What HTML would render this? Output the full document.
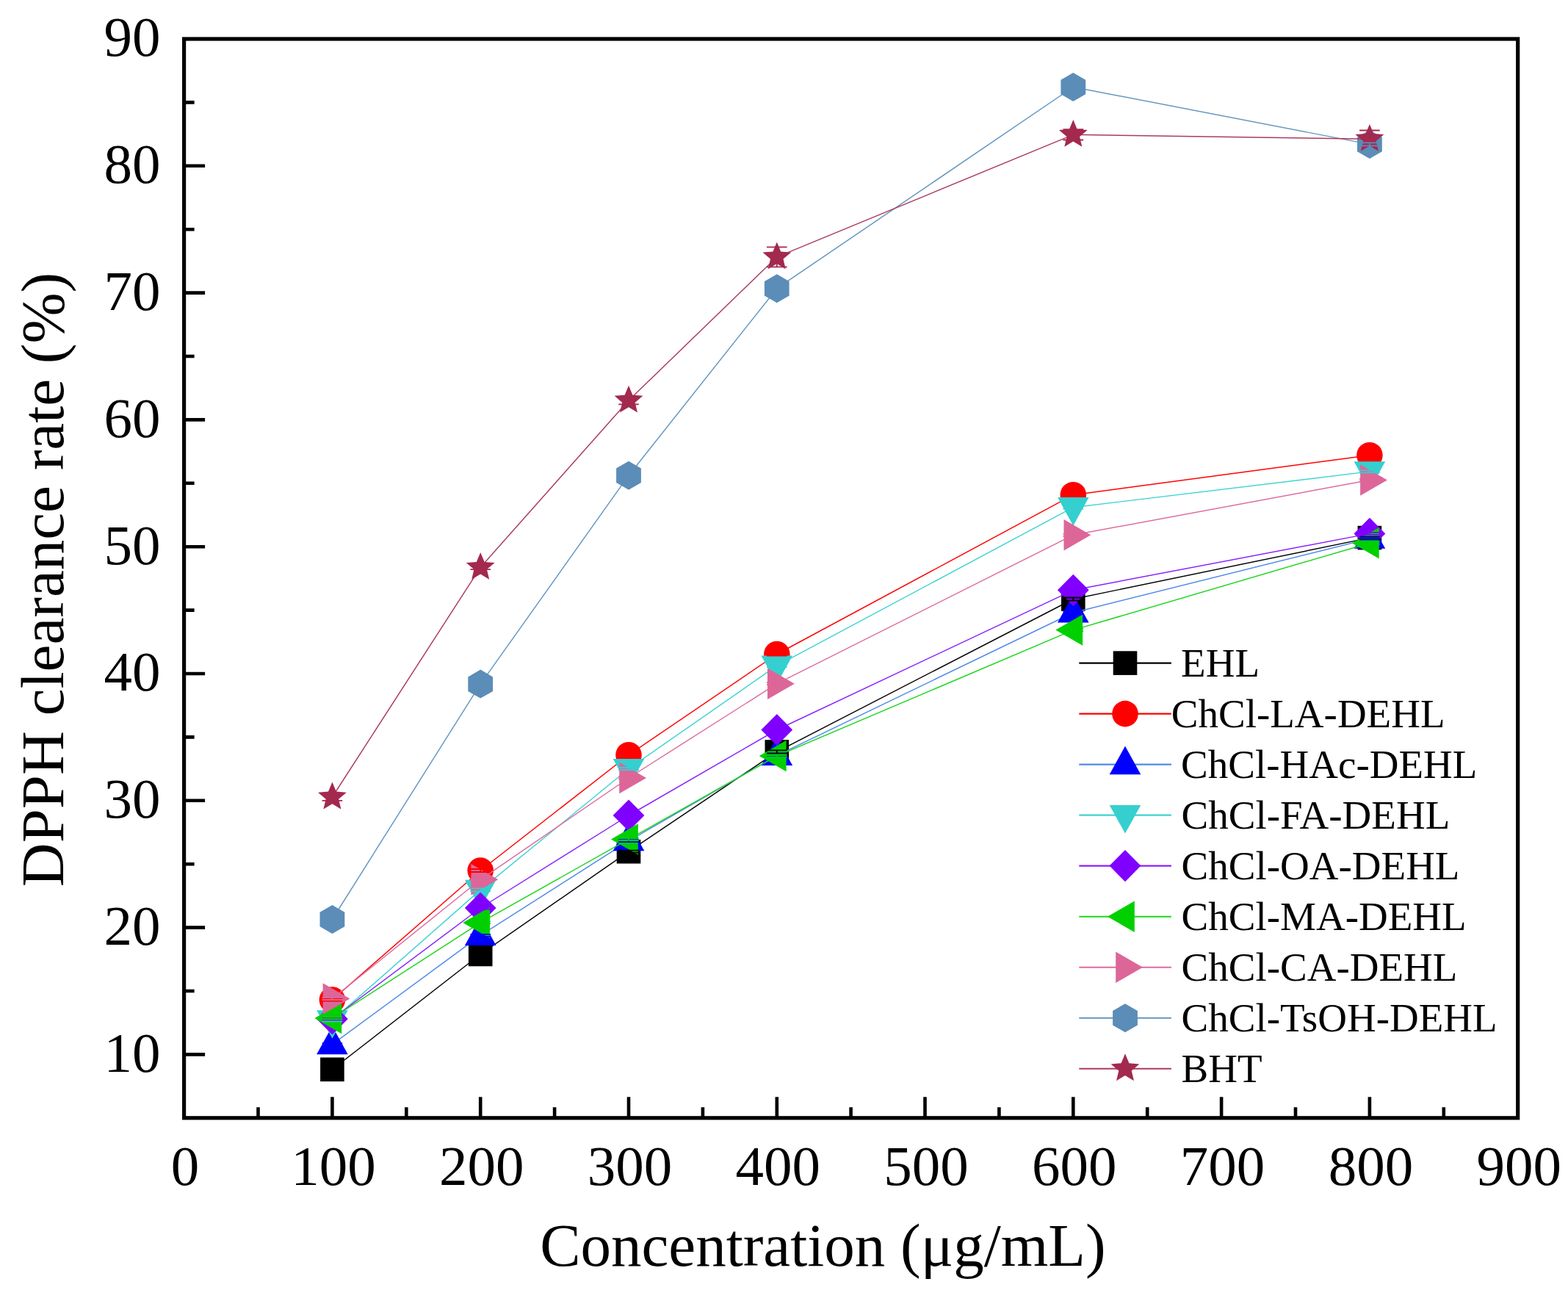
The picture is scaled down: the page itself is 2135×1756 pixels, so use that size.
<!DOCTYPE html>
<html><head><meta charset="utf-8"><title>DPPH clearance rate</title>
<style>html,body{margin:0;padding:0;background:#fff;}svg{display:block;}</style>
</head><body>
<svg width="2135" height="1756" viewBox="0 0 2135 1756">
<rect width="2135" height="1756" fill="#fff"/>
<polyline points="452.4,1455.8 654.2,1299.0 856.0,1159.2 1057.8,1023.4 1461.3,815.5 1864.9,732.1" fill="none" stroke="#000000" stroke-width="1.45" stroke-linejoin="round"/>
<rect x="436.1" y="1439.5" width="32.6" height="32.6" fill="#000000"/>
<rect x="637.9" y="1282.7" width="32.6" height="32.6" fill="#000000"/>
<rect x="839.7" y="1142.9" width="32.6" height="32.6" fill="#000000"/>
<rect x="1041.5" y="1007.1" width="32.6" height="32.6" fill="#000000"/>
<rect x="1445.0" y="799.2" width="32.6" height="32.6" fill="#000000"/>
<rect x="1848.6" y="715.8" width="32.6" height="32.6" fill="#000000"/>
<polyline points="452.4,1361.0 654.2,1185.0 856.0,1027.7 1057.8,890.5 1461.3,673.7 1864.9,619.7" fill="none" stroke="#ff0000" stroke-width="1.45" stroke-linejoin="round"/>
<circle cx="452.4" cy="1361.0" r="17.8" fill="#ff0000"/>
<circle cx="654.2" cy="1185.0" r="17.8" fill="#ff0000"/>
<circle cx="856.0" cy="1027.7" r="17.8" fill="#ff0000"/>
<circle cx="1057.8" cy="890.5" r="17.8" fill="#ff0000"/>
<circle cx="1461.3" cy="673.7" r="17.8" fill="#ff0000"/>
<circle cx="1864.9" cy="619.7" r="17.8" fill="#ff0000"/>
<polyline points="452.4,1421.7 654.2,1273.3 856.0,1144.7 1057.8,1028.4 1461.3,834.0 1864.9,733.2" fill="none" stroke="#4f8aea" stroke-width="1.45" stroke-linejoin="round"/>
<polygon points="452.4,1396.7 473.7,1435.3 431.1,1435.3" fill="#0000ff"/>
<polygon points="654.2,1248.3 675.5,1286.9 632.9,1286.9" fill="#0000ff"/>
<polygon points="856.0,1119.7 877.3,1158.3 834.7,1158.3" fill="#0000ff"/>
<polygon points="1057.8,1003.4 1079.1,1042.0 1036.5,1042.0" fill="#0000ff"/>
<polygon points="1461.3,809.0 1482.6,847.6 1440.0,847.6" fill="#0000ff"/>
<polygon points="1864.9,708.2 1886.2,746.8 1843.6,746.8" fill="#0000ff"/>
<polyline points="452.4,1388.8 654.2,1211.4 856.0,1046.5 1057.8,906.1 1461.3,690.7 1864.9,641.9" fill="none" stroke="#3fd2d2" stroke-width="1.45" stroke-linejoin="round"/>
<polygon points="452.4,1413.8 473.7,1375.2 431.1,1375.2" fill="#36cfcf"/>
<polygon points="654.2,1236.4 675.5,1197.8 632.9,1197.8" fill="#36cfcf"/>
<polygon points="856.0,1071.5 877.3,1032.9 834.7,1032.9" fill="#36cfcf"/>
<polygon points="1057.8,931.1 1079.1,892.5 1036.5,892.5" fill="#36cfcf"/>
<polygon points="1461.3,715.7 1482.6,677.1 1440.0,677.1" fill="#36cfcf"/>
<polygon points="1864.9,666.9 1886.2,628.3 1843.6,628.3" fill="#36cfcf"/>
<polyline points="452.4,1387.0 654.2,1236.0 856.0,1110.0 1057.8,993.5 1461.3,803.3 1864.9,726.4" fill="none" stroke="#8a20ff" stroke-width="1.45" stroke-linejoin="round"/>
<polygon points="452.4,1365.4 473.8,1387.0 452.4,1408.6 431.0,1387.0" fill="#8000ff"/>
<polygon points="654.2,1214.4 675.6,1236.0 654.2,1257.6 632.8,1236.0" fill="#8000ff"/>
<polygon points="856.0,1088.4 877.4,1110.0 856.0,1131.6 834.6,1110.0" fill="#8000ff"/>
<polygon points="1057.8,971.9 1079.2,993.5 1057.8,1015.1 1036.4,993.5" fill="#8000ff"/>
<polygon points="1461.3,781.7 1482.7,803.3 1461.3,824.9 1439.9,803.3" fill="#8000ff"/>
<polygon points="1864.9,704.8 1886.3,726.4 1864.9,748.0 1843.5,726.4" fill="#8000ff"/>
<polyline points="452.4,1386.0 654.2,1255.9 856.0,1142.4 1057.8,1029.0 1461.3,857.6 1864.9,739.2" fill="none" stroke="#1cd61c" stroke-width="1.45" stroke-linejoin="round"/>
<polygon points="428.4,1386.0 465.2,1364.8 465.2,1407.2" fill="#00d000"/>
<polygon points="630.2,1255.9 667.0,1234.7 667.0,1277.1" fill="#00d000"/>
<polygon points="832.0,1142.4 868.8,1121.2 868.8,1163.6" fill="#00d000"/>
<polygon points="1033.8,1029.0 1070.6,1007.8 1070.6,1050.2" fill="#00d000"/>
<polygon points="1437.3,857.6 1474.1,836.4 1474.1,878.8" fill="#00d000"/>
<polygon points="1840.9,739.2 1877.7,718.0 1877.7,760.4" fill="#00d000"/>
<polyline points="452.4,1359.5 654.2,1197.3 856.0,1059.0 1057.8,930.7 1461.3,728.3 1864.9,653.5" fill="none" stroke="#dd6c9f" stroke-width="1.45" stroke-linejoin="round"/>
<polygon points="476.4,1359.5 439.6,1338.3 439.6,1380.7" fill="#dd6699"/>
<polygon points="678.2,1197.3 641.4,1176.1 641.4,1218.5" fill="#dd6699"/>
<polygon points="880.0,1059.0 843.2,1037.8 843.2,1080.2" fill="#dd6699"/>
<polygon points="1081.8,930.7 1045.0,909.5 1045.0,951.9" fill="#dd6699"/>
<polygon points="1485.3,728.3 1448.5,707.1 1448.5,749.5" fill="#dd6699"/>
<polygon points="1888.9,653.5 1852.1,632.3 1852.1,674.7" fill="#dd6699"/>
<polyline points="452.4,1251.5 654.2,931.1 856.0,647.2 1057.8,392.7 1461.3,118.5 1864.9,196.4" fill="none" stroke="#6496c0" stroke-width="1.45" stroke-linejoin="round"/>
<polygon points="452.4,1232.0 469.3,1241.8 469.3,1261.2 452.4,1271.0 435.5,1261.2 435.5,1241.8" fill="#5b8db8"/>
<polygon points="654.2,911.6 671.1,921.4 671.1,940.9 654.2,950.6 637.3,940.9 637.3,921.4" fill="#5b8db8"/>
<polygon points="856.0,627.7 872.9,637.5 872.9,657.0 856.0,666.7 839.1,657.0 839.1,637.5" fill="#5b8db8"/>
<polygon points="1057.8,373.2 1074.6,382.9 1074.6,402.4 1057.8,412.2 1040.9,402.4 1040.9,382.9" fill="#5b8db8"/>
<polygon points="1461.3,99.0 1478.2,108.8 1478.2,128.2 1461.3,138.0 1444.4,128.2 1444.4,108.8" fill="#5b8db8"/>
<polygon points="1864.9,176.9 1881.8,186.7 1881.8,206.2 1864.9,215.9 1848.0,206.2 1848.0,186.7" fill="#5b8db8"/>
<polyline points="452.4,1085.0 654.2,772.3 856.0,545.1 1057.8,349.8 1461.3,183.3 1864.9,189.3" fill="none" stroke="#ab3a60" stroke-width="1.45" stroke-linejoin="round"/>
<polygon points="452.4,1064.6 457.8,1077.6 471.8,1078.7 461.1,1087.8 464.4,1101.5 452.4,1094.2 440.4,1101.5 443.7,1087.8 433.0,1078.7 447.0,1077.6" fill="#a3294f"/>
<polygon points="654.2,751.9 659.6,764.9 673.6,766.0 662.9,775.1 666.2,788.8 654.2,781.5 642.2,788.8 645.4,775.1 634.8,766.0 648.8,764.9" fill="#a3294f"/>
<polygon points="856.0,524.7 861.4,537.7 875.4,538.8 864.7,547.9 868.0,561.6 856.0,554.3 844.0,561.6 847.2,547.9 836.6,538.8 850.6,537.7" fill="#a3294f"/>
<polygon points="1057.8,329.4 1063.2,342.4 1077.2,343.5 1066.5,352.6 1069.7,366.3 1057.8,359.0 1045.8,366.3 1049.0,352.6 1038.4,343.5 1052.4,342.4" fill="#a3294f"/>
<polygon points="1461.3,162.9 1466.7,175.9 1480.7,177.0 1470.1,186.1 1473.3,199.8 1461.3,192.5 1449.3,199.8 1452.6,186.1 1441.9,177.0 1455.9,175.9" fill="#a3294f"/>
<polygon points="1864.9,168.9 1870.3,181.9 1884.3,183.0 1873.6,192.1 1876.9,205.8 1864.9,198.5 1852.9,205.8 1856.2,192.1 1845.5,183.0 1859.5,181.9" fill="#a3294f"/>
<path d="M452.4,1454.3V1457.3M438.6,1454.3H466.2M438.6,1457.3H466.2M654.2,1297.5V1300.5M640.4,1297.5H668.0M640.4,1300.5H668.0M856.0,1157.7V1160.7M842.2,1157.7H869.8M842.2,1160.7H869.8M1057.8,1021.4V1025.4M1044.0,1021.4H1071.6M1044.0,1025.4H1071.6M1461.3,813.5V817.5M1447.5,813.5H1475.1M1447.5,817.5H1475.1M1864.9,730.6V733.6M1851.1,730.6H1878.7M1851.1,733.6H1878.7" stroke="#000000" stroke-width="1.8" fill="none"/>
<path d="M452.4,1359.5V1362.5M438.6,1359.5H466.2M438.6,1362.5H466.2M654.2,1183.0V1187.0M640.4,1183.0H668.0M640.4,1187.0H668.0M856.0,1026.2V1029.2M842.2,1026.2H869.8M842.2,1029.2H869.8M1057.8,888.5V892.5M1044.0,888.5H1071.6M1044.0,892.5H1071.6M1461.3,671.7V675.7M1447.5,671.7H1475.1M1447.5,675.7H1475.1M1864.9,618.2V621.2M1851.1,618.2H1878.7M1851.1,621.2H1878.7" stroke="#ff0000" stroke-width="1.8" fill="none"/>
<path d="M452.4,1420.2V1423.2M438.6,1420.2H466.2M438.6,1423.2H466.2M654.2,1271.8V1274.8M640.4,1271.8H668.0M640.4,1274.8H668.0M856.0,1143.2V1146.2M842.2,1143.2H869.8M842.2,1146.2H869.8M1057.8,1026.9V1029.9M1044.0,1026.9H1071.6M1044.0,1029.9H1071.6M1461.3,832.5V835.5M1447.5,832.5H1475.1M1447.5,835.5H1475.1M1864.9,731.7V734.7M1851.1,731.7H1878.7M1851.1,734.7H1878.7" stroke="#0000ff" stroke-width="1.8" fill="none"/>
<path d="M452.4,1387.3V1390.3M438.6,1387.3H466.2M438.6,1390.3H466.2M654.2,1209.4V1213.4M640.4,1209.4H668.0M640.4,1213.4H668.0M856.0,1045.0V1048.0M842.2,1045.0H869.8M842.2,1048.0H869.8M1057.8,904.1V908.1M1044.0,904.1H1071.6M1044.0,908.1H1071.6M1461.3,688.7V692.7M1447.5,688.7H1475.1M1447.5,692.7H1475.1M1864.9,640.4V643.4M1851.1,640.4H1878.7M1851.1,643.4H1878.7" stroke="#36cfcf" stroke-width="1.8" fill="none"/>
<path d="M452.4,1385.5V1388.5M438.6,1385.5H466.2M438.6,1388.5H466.2M654.2,1234.5V1237.5M640.4,1234.5H668.0M640.4,1237.5H668.0M856.0,1108.5V1111.5M842.2,1108.5H869.8M842.2,1111.5H869.8M1057.8,992.0V995.0M1044.0,992.0H1071.6M1044.0,995.0H1071.6M1461.3,801.8V804.8M1447.5,801.8H1475.1M1447.5,804.8H1475.1M1864.9,724.9V727.9M1851.1,724.9H1878.7M1851.1,727.9H1878.7" stroke="#8000ff" stroke-width="1.8" fill="none"/>
<path d="M452.4,1384.5V1387.5M438.6,1384.5H466.2M438.6,1387.5H466.2M654.2,1254.4V1257.4M640.4,1254.4H668.0M640.4,1257.4H668.0M856.0,1140.9V1143.9M842.2,1140.9H869.8M842.2,1143.9H869.8M1057.8,1027.5V1030.5M1044.0,1027.5H1071.6M1044.0,1030.5H1071.6M1461.3,856.1V859.1M1447.5,856.1H1475.1M1447.5,859.1H1475.1M1864.9,737.7V740.7M1851.1,737.7H1878.7M1851.1,740.7H1878.7" stroke="#00d000" stroke-width="1.8" fill="none"/>
<path d="M452.4,1358.0V1361.0M438.6,1358.0H466.2M438.6,1361.0H466.2M654.2,1195.8V1198.8M640.4,1195.8H668.0M640.4,1198.8H668.0M856.0,1057.5V1060.5M842.2,1057.5H869.8M842.2,1060.5H869.8M1057.8,929.2V932.2M1044.0,929.2H1071.6M1044.0,932.2H1071.6M1461.3,726.8V729.8M1447.5,726.8H1475.1M1447.5,729.8H1475.1M1864.9,652.0V655.0M1851.1,652.0H1878.7M1851.1,655.0H1878.7" stroke="#dd6699" stroke-width="1.8" fill="none"/>
<path d="M452.4,1249.5V1253.5M438.6,1249.5H466.2M438.6,1253.5H466.2M654.2,929.1V933.1M640.4,929.1H668.0M640.4,933.1H668.0M856.0,645.2V649.2M842.2,645.2H869.8M842.2,649.2H869.8M1057.8,390.7V394.7M1044.0,390.7H1071.6M1044.0,394.7H1071.6M1461.3,116.5V120.5M1447.5,116.5H1475.1M1447.5,120.5H1475.1M1864.9,194.4V198.4M1851.1,194.4H1878.7M1851.1,198.4H1878.7" stroke="#5b8db8" stroke-width="1.8" fill="none"/>
<path d="M452.4,1080.2V1089.8M438.6,1080.2H466.2M438.6,1089.8H466.2M654.2,769.5V775.1M640.4,769.5H668.0M640.4,775.1H668.0M856.0,539.9V550.3M842.2,539.9H869.8M842.2,550.3H869.8M1057.8,336.3V363.3M1044.0,336.3H1071.6M1044.0,363.3H1071.6M1461.3,176.1V190.5M1447.5,176.1H1475.1M1447.5,190.5H1475.1M1864.9,177.5V189.3M1851.1,177.5H1878.7" stroke="#a3294f" stroke-width="1.8" fill="none"/>
<rect x="250.6" y="53.0" width="1816.1" height="1468.8" fill="none" stroke="#000" stroke-width="5.2" stroke-linejoin="miter"/>
<path d="M351.5,1521.8V1507.3M452.4,1521.8V1493.3M553.3,1521.8V1507.3M654.2,1521.8V1493.3M755.1,1521.8V1507.3M856.0,1521.8V1493.3M956.9,1521.8V1507.3M1057.8,1521.8V1493.3M1158.6,1521.8V1507.3M1259.5,1521.8V1493.3M1360.4,1521.8V1507.3M1461.3,1521.8V1493.3M1562.2,1521.8V1507.3M1663.1,1521.8V1493.3M1764.0,1521.8V1507.3M1864.9,1521.8V1493.3M1965.8,1521.8V1507.3M250.6,1435.4H279.1M250.6,1349.0H264.6M250.6,1262.6H279.1M250.6,1176.2H264.6M250.6,1089.8H279.1M250.6,1003.4H264.6M250.6,917.0H279.1M250.6,830.6H264.6M250.6,744.2H279.1M250.6,657.8H264.6M250.6,571.4H279.1M250.6,485.0H264.6M250.6,398.6H279.1M250.6,312.2H264.6M250.6,225.8H279.1M250.6,139.4H264.6" stroke="#000" stroke-width="4.6" fill="none"/>
<text x="252.1" y="1613.3" font-family="Liberation Serif, Times New Roman, serif" font-size="77" text-anchor="middle">0</text>
<text x="453.9" y="1613.3" font-family="Liberation Serif, Times New Roman, serif" font-size="77" text-anchor="middle">100</text>
<text x="655.7" y="1613.3" font-family="Liberation Serif, Times New Roman, serif" font-size="77" text-anchor="middle">200</text>
<text x="857.5" y="1613.3" font-family="Liberation Serif, Times New Roman, serif" font-size="77" text-anchor="middle">300</text>
<text x="1059.3" y="1613.3" font-family="Liberation Serif, Times New Roman, serif" font-size="77" text-anchor="middle">400</text>
<text x="1261.0" y="1613.3" font-family="Liberation Serif, Times New Roman, serif" font-size="77" text-anchor="middle">500</text>
<text x="1462.8" y="1613.3" font-family="Liberation Serif, Times New Roman, serif" font-size="77" text-anchor="middle">600</text>
<text x="1664.6" y="1613.3" font-family="Liberation Serif, Times New Roman, serif" font-size="77" text-anchor="middle">700</text>
<text x="1866.4" y="1613.3" font-family="Liberation Serif, Times New Roman, serif" font-size="77" text-anchor="middle">800</text>
<text x="2068.2" y="1613.3" font-family="Liberation Serif, Times New Roman, serif" font-size="77" text-anchor="middle">900</text>
<text x="218.5" y="1458.7" font-family="Liberation Serif, Times New Roman, serif" font-size="77" text-anchor="end">10</text>
<text x="218.5" y="1285.9" font-family="Liberation Serif, Times New Roman, serif" font-size="77" text-anchor="end">20</text>
<text x="218.5" y="1113.1" font-family="Liberation Serif, Times New Roman, serif" font-size="77" text-anchor="end">30</text>
<text x="218.5" y="940.3" font-family="Liberation Serif, Times New Roman, serif" font-size="77" text-anchor="end">40</text>
<text x="218.5" y="767.5" font-family="Liberation Serif, Times New Roman, serif" font-size="77" text-anchor="end">50</text>
<text x="218.5" y="594.7" font-family="Liberation Serif, Times New Roman, serif" font-size="77" text-anchor="end">60</text>
<text x="218.5" y="421.9" font-family="Liberation Serif, Times New Roman, serif" font-size="77" text-anchor="end">70</text>
<text x="218.5" y="249.1" font-family="Liberation Serif, Times New Roman, serif" font-size="77" text-anchor="end">80</text>
<text x="218.5" y="76.3" font-family="Liberation Serif, Times New Roman, serif" font-size="77" text-anchor="end">90</text>
<text x="1120.4" y="1722.5" font-family="Liberation Serif, Times New Roman, serif" font-size="83" text-anchor="middle">Concentration (μg/mL)</text>
<text transform="translate(86.3,789) rotate(-90)" font-family="Liberation Serif, Times New Roman, serif" font-size="83" text-anchor="middle">DPPH clearance rate (%)</text>
<line x1="1469.3" y1="902.6" x2="1594.9" y2="902.6" stroke="#000000" stroke-width="2.1"/>
<rect x="1515.7" y="886.3" width="32.6" height="32.6" fill="#000000"/>
<text x="1608.1" y="921.3" font-family="Liberation Serif, Times New Roman, serif" font-size="55">EHL</text>
<line x1="1469.3" y1="971.6" x2="1594.9" y2="971.6" stroke="#ff0000" stroke-width="2.1"/>
<circle cx="1532.0" cy="971.6" r="17.8" fill="#ff0000"/>
<text x="1594.8" y="990.3" font-family="Liberation Serif, Times New Roman, serif" font-size="55">ChCl-LA-DEHL</text>
<line x1="1469.3" y1="1040.6" x2="1594.9" y2="1040.6" stroke="#4f8aea" stroke-width="2.1"/>
<polygon points="1532.0,1015.6 1553.3,1054.2 1510.7,1054.2" fill="#0000ff"/>
<text x="1608.1" y="1059.3" font-family="Liberation Serif, Times New Roman, serif" font-size="55">ChCl-HAc-DEHL</text>
<line x1="1469.3" y1="1109.6" x2="1594.9" y2="1109.6" stroke="#3fd2d2" stroke-width="2.1"/>
<polygon points="1532.0,1134.6 1553.3,1096.0 1510.7,1096.0" fill="#36cfcf"/>
<text x="1608.6" y="1128.3" font-family="Liberation Serif, Times New Roman, serif" font-size="55">ChCl-FA-DEHL</text>
<line x1="1469.3" y1="1178.6" x2="1594.9" y2="1178.6" stroke="#8a20ff" stroke-width="2.1"/>
<polygon points="1532.0,1157.0 1553.4,1178.6 1532.0,1200.2 1510.6,1178.6" fill="#8000ff"/>
<text x="1608.6" y="1197.3" font-family="Liberation Serif, Times New Roman, serif" font-size="55">ChCl-OA-DEHL</text>
<line x1="1469.3" y1="1247.7" x2="1594.9" y2="1247.7" stroke="#1cd61c" stroke-width="2.1"/>
<polygon points="1508.0,1247.7 1544.8,1226.5 1544.8,1268.9" fill="#00d000"/>
<text x="1608.6" y="1266.4" font-family="Liberation Serif, Times New Roman, serif" font-size="55">ChCl-MA-DEHL</text>
<line x1="1469.3" y1="1316.7" x2="1594.9" y2="1316.7" stroke="#dd6c9f" stroke-width="2.1"/>
<polygon points="1556.0,1316.7 1519.2,1295.5 1519.2,1337.9" fill="#dd6699"/>
<text x="1608.6" y="1335.4" font-family="Liberation Serif, Times New Roman, serif" font-size="55">ChCl-CA-DEHL</text>
<line x1="1469.3" y1="1385.7" x2="1594.9" y2="1385.7" stroke="#6496c0" stroke-width="2.1"/>
<polygon points="1532.0,1366.2 1548.9,1375.9 1548.9,1395.4 1532.0,1405.2 1515.1,1395.4 1515.1,1375.9" fill="#5b8db8"/>
<text x="1608.6" y="1404.4" font-family="Liberation Serif, Times New Roman, serif" font-size="55">ChCl-TsOH-DEHL</text>
<line x1="1469.3" y1="1454.7" x2="1594.9" y2="1454.7" stroke="#ab3a60" stroke-width="2.1"/>
<polygon points="1532.0,1434.3 1537.4,1447.3 1551.4,1448.4 1540.7,1457.5 1544.0,1471.2 1532.0,1463.9 1520.0,1471.2 1523.3,1457.5 1512.6,1448.4 1526.6,1447.3" fill="#a3294f"/>
<text x="1608.6" y="1473.4" font-family="Liberation Serif, Times New Roman, serif" font-size="55">BHT</text>
</svg>
</body></html>
